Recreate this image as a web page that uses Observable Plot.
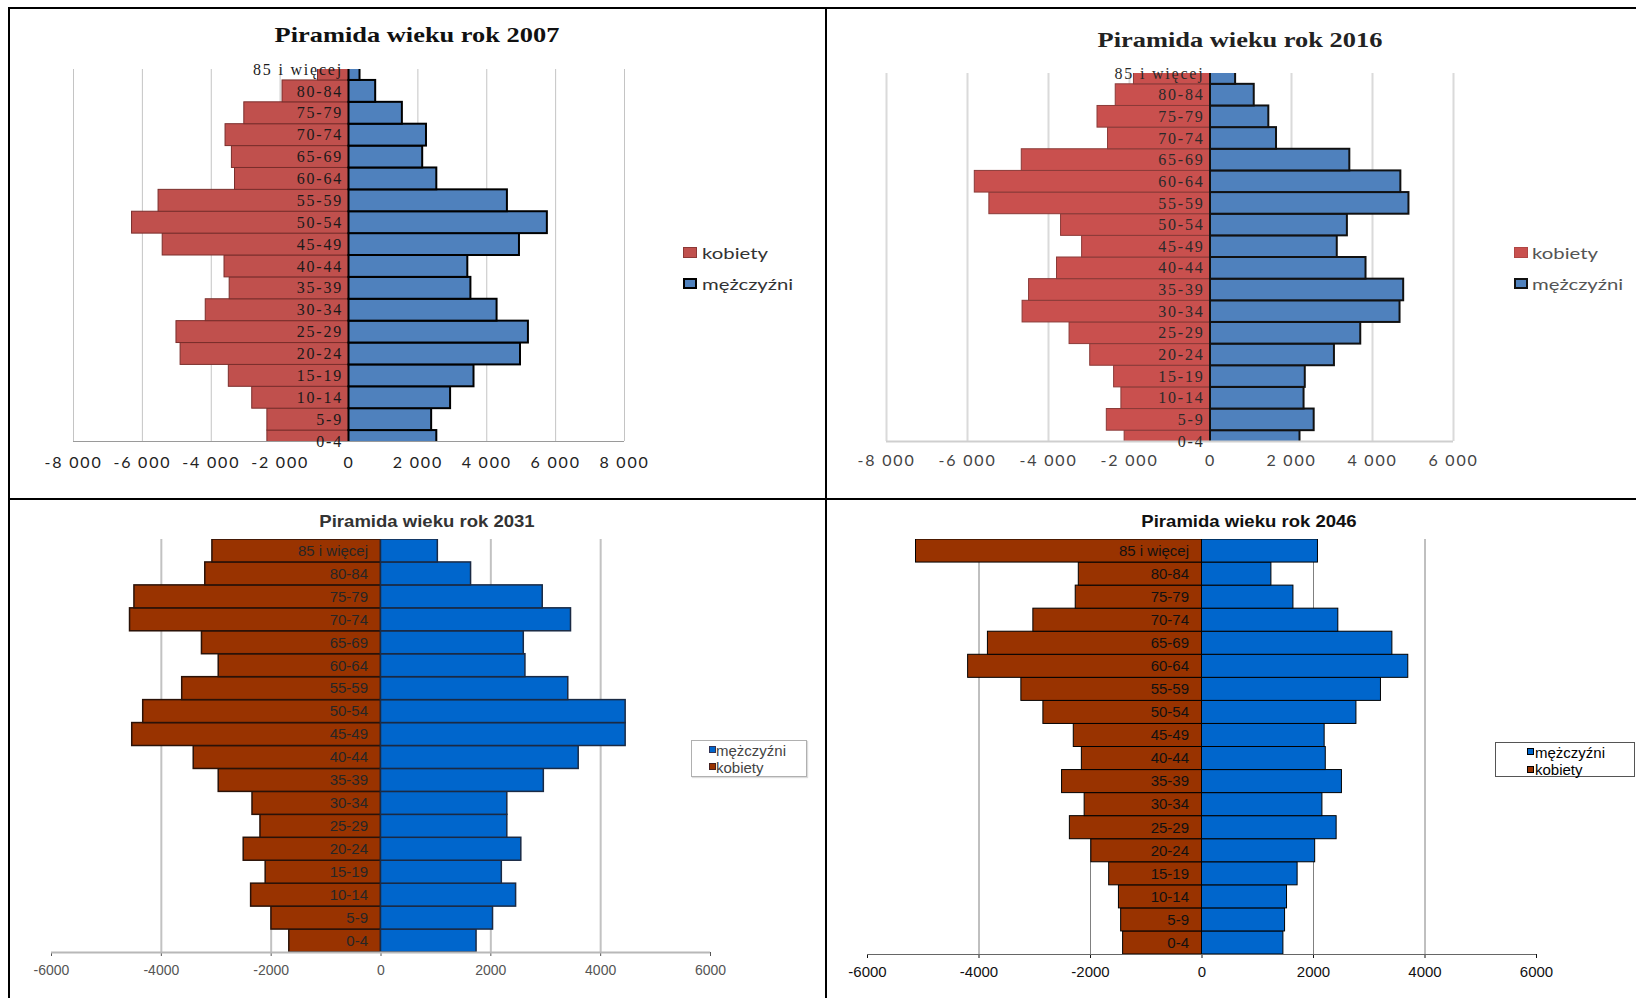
<!DOCTYPE html>
<html>
<head>
<meta charset="utf-8">
<script src="https://cdn.jsdelivr.net/npm/d3@7"></script>
<script src="https://cdn.jsdelivr.net/npm/@observablehq/plot@0.6"></script>
<style>
  body { margin: 0; background: #fff; }
  #page { position: relative; width: 1636px; height: 998px; overflow: hidden; background: #fff; }
  .line { position: absolute; background: #000; }
  .panel { position: absolute; }
  .panel svg { display: block; }
  .title { position: absolute; white-space: nowrap; line-height: 1; }
  .ltext { position: absolute; white-space: nowrap; line-height: 1; transform-origin: 0 50%; }
  .sq { position: absolute; box-sizing: border-box; }
  .lbox { position: absolute; box-sizing: border-box; background: #fff; }
</style>
</head>
<body>
<div id="page">
  <div id="p1" class="panel" style="left:10px;top:9px"></div>
  <div id="p2" class="panel" style="left:827px;top:9px"></div>
  <div id="p3" class="panel" style="left:10px;top:500px"></div>
  <div id="p4" class="panel" style="left:827px;top:500px"></div>

  <!-- titles -->
  <div class="title" style="left:417px;top:34.5px;font:bold 22px 'Liberation Serif';color:#111;transform:translate(-50%,-50%) scaleX(1.2)">Piramida wieku rok 2007</div>
  <div class="title" style="left:1240px;top:40px;font:bold 22px 'Liberation Serif';color:#222;transform:translate(-50%,-50%) scaleX(1.2)">Piramida wieku rok 2016</div>
  <div class="title" style="left:427px;top:522px;font:bold 17px 'Liberation Sans';color:#333;transform:translate(-50%,-50%) scaleX(1.09)">Piramida wieku rok 2031</div>
  <div class="title" style="left:1249px;top:522px;font:bold 17px 'Liberation Sans';color:#111;transform:translate(-50%,-50%) scaleX(1.09)">Piramida wieku rok 2046</div>

  <!-- legend 2007 -->
  <div class="sq" style="left:683px;top:246.5px;width:14px;height:11px;background:#c0504d;border:1px solid #8c3836"></div>
  <div class="ltext" style="left:702px;top:252px;font:16px Lato;color:#333;transform:translateY(-50%) scaleX(1.27)">kobiety</div>
  <div class="sq" style="left:683px;top:277.5px;width:14px;height:11px;background:#4f81bd;border:2px solid #000"></div>
  <div class="ltext" style="left:702px;top:283px;font:16px Lato;color:#333;transform:translateY(-50%) scaleX(1.27)">mężczyźni</div>

  <!-- legend 2016 -->
  <div class="sq" style="left:1514px;top:246.5px;width:14px;height:11px;background:#c9504e;border:1px solid #b04644"></div>
  <div class="ltext" style="left:1532px;top:252px;font:16px Lato;color:#555;transform:translateY(-50%) scaleX(1.27)">kobiety</div>
  <div class="sq" style="left:1514px;top:277.5px;width:14px;height:11px;background:#4f81bd;border:2px solid #111"></div>
  <div class="ltext" style="left:1532px;top:283px;font:16px Lato;color:#555;transform:translateY(-50%) scaleX(1.27)">mężczyźni</div>

  <!-- legend 2031 -->
  <div class="lbox" style="left:691px;top:740px;width:116px;height:37px;border:1px solid #b0b0b0;box-shadow:1px 1px 1px #ddd"></div>
  <div class="sq" style="left:709px;top:746px;width:7px;height:7px;background:#0066cc;border:1px solid #335"></div>
  <div class="ltext" style="left:716px;top:750px;font:15px 'Liberation Sans';color:#444;transform:translateY(-50%)">mężczyźni</div>
  <div class="sq" style="left:709px;top:763px;width:7px;height:7px;background:#993300;border:1px solid #422"></div>
  <div class="ltext" style="left:716px;top:767px;font:15px 'Liberation Sans';color:#444;transform:translateY(-50%)">kobiety</div>

  <!-- legend 2046 -->
  <div class="lbox" style="left:1495px;top:742px;width:140px;height:35px;border:1px solid #555"></div>
  <div class="sq" style="left:1527px;top:748px;width:7px;height:7px;background:#0066cc;border:1px solid #000"></div>
  <div class="ltext" style="left:1535px;top:752px;font:15px 'Liberation Sans';color:#000;transform:translateY(-50%)">mężczyźni</div>
  <div class="sq" style="left:1527px;top:766px;width:7px;height:7px;background:#993300;border:1px solid #000"></div>
  <div class="ltext" style="left:1535px;top:769px;font:15px 'Liberation Sans';color:#000;transform:translateY(-50%)">kobiety</div>

  <!-- frame lines -->
  <div class="line" style="left:8px;top:7px;width:1628px;height:2px"></div>
  <div class="line" style="left:8px;top:7px;width:2px;height:991px"></div>
  <div class="line" style="left:825px;top:7px;width:2px;height:991px"></div>
  <div class="line" style="left:8px;top:498px;width:1628px;height:2px"></div>
</div>

<script>
// ---------- DATA (bottom to top: youngest first) ----------
const ageGroups = ["0-4","5-9","10-14","15-19","20-24","25-29","30-34","35-39","40-44","45-49","50-54","55-59","60-64","65-69","70-74","75-79","80-84","85 i więcej"];

const women2007 = [2370, 2370, 2810, 3490, 4890, 5010, 4160, 3465, 3615, 5410, 6300, 5530, 3310, 3400, 3585, 3040, 1930, 900];
const men2007   = [2550, 2400, 2950, 3630, 4980, 5210, 4300, 3540, 3450, 4950, 5760, 4600, 2550, 2140, 2250, 1550, 775, 320];

const women2016 = [2120, 2560, 2200, 2380, 2970, 3480, 4640, 4480, 3790, 3170, 3690, 5460, 5820, 4660, 2530, 2790, 2340, 1890];
const men2016   = [2210, 2560, 2310, 2340, 3060, 3710, 4680, 4770, 3840, 3130, 3380, 4900, 4700, 3440, 1630, 1440, 1080, 620];

const women2031 = [1670, 1995, 2365, 2100, 2500, 2195, 2340, 2955, 3410, 4530, 4330, 3620, 2955, 3260, 4570, 4490, 3200, 3070];
const men2031   = [1740, 2040, 2460, 2200, 2555, 2300, 2300, 2965, 3600, 4455, 4455, 3410, 2630, 2600, 3460, 2945, 1640, 1035];

const women2046 = [1415, 1450, 1490, 1665, 1985, 2370, 2105, 2510, 2155, 2300, 2845, 3240, 4195, 3840, 3025, 2265, 2210, 5130];
const men2046   = [1460, 1490, 1525, 1715, 2030, 2415, 2160, 2510, 2220, 2200, 2770, 3210, 3700, 3415, 2445, 1640, 1245, 2080];

const ticks2007 = [-8000, -6000, -4000, -2000, 0, 2000, 4000, 6000, 8000];
const tickLabels2007 = ["-8 000", "-6 000", "-4 000", "-2 000", "0", "2 000", "4 000", "6 000", "8 000"];
const ticks2016 = [-8000, -6000, -4000, -2000, 0, 2000, 4000, 6000];
const tickLabels2016 = ["-8 000", "-6 000", "-4 000", "-2 000", "0", "2 000", "4 000", "6 000"];
const ticks2031 = [-6000, -4000, -2000, 0, 2000, 4000, 6000];
const tickLabels2031 = ["-6000", "-4000", "-2000", "0", "2000", "4000", "6000"];
const ticks2046 = [-6000, -4000, -2000, 0, 2000, 4000, 6000];
const tickLabels2046 = ["-6000", "-4000", "-2000", "0", "2000", "4000", "6000"];
const grid2031 = [-4000, -2000, 2000, 4000];
const grid2046 = [-4000, -2000, 2000, 4000];

// ---------- CHART ----------
function pyramid(o) {
  const rows = ageGroups.map((g, i) => ({g, i, w: o.women[i], m: o.men[i]}));
  const [ylo, yhi] = o.yDomain;
  return Plot.plot({
    width: o.width, height: o.height,
    marginLeft: o.ml, marginRight: o.mr, marginTop: o.mt, marginBottom: o.mb,
    x: {domain: [o.ticks[0], o.ticks[o.ticks.length - 1]], ticks: o.ticks,
        tickFormat: d => o.tickLabels[o.ticks.indexOf(d)],
        tickSize: o.tickSize, tickPadding: o.tickPadding, label: null},
    y: {domain: o.yDomain, axis: null},
    style: {background: "transparent", fontFamily: o.tickFont, fontSize: o.tickFontSize + "px",
            color: o.tickColor, letterSpacing: o.letterSpacing, overflow: "visible"},
    marks: [
      Plot.ruleX(o.grid, {y1: ylo, y2: yhi, stroke: o.gridColor, strokeWidth: o.gridWidth}),
      Plot.rect(rows, {x1: d => -d.w, x2: 0, y1: d => d.i - 0.5, y2: d => d.i + 0.5,
        fill: o.womenColor, stroke: o.womenStroke, strokeWidth: o.womenStrokeWidth, clip: true}),
      Plot.rect(rows, {x1: 0, x2: "m", y1: d => d.i - 0.5, y2: d => d.i + 0.5,
        fill: o.menColor, stroke: o.menStroke, strokeWidth: o.menStrokeWidth, clip: true}),
      Plot.ruleY([ylo], {x1: o.ticks[0], x2: o.ticks[o.ticks.length - 1], stroke: o.axisColor, strokeWidth: o.axisWidth}),
      Plot.text(rows, {x: 0, y: "i", text: "g", textAnchor: "end", dx: -o.labelGap,
        fontFamily: o.labelFont, fontSize: o.labelSize, fill: o.labelColor})
    ]
  });
}

document.getElementById("p1").append(pyramid({
  women: women2007, men: men2007, ticks: ticks2007, tickLabels: tickLabels2007, grid: ticks2007,
  width: 815, height: 489, ml: 63, mr: 201, mt: 60, mb: 57, yDomain: [0, 17],
  tickSize: 0, tickPadding: 15, tickFont: "Lato", tickFontSize: 16, tickColor: "#222", letterSpacing: "1.8px",
  gridColor: "#c4c4c4", gridWidth: 1, axisColor: "#9a9a9a", axisWidth: 1,
  womenColor: "#c0504d", womenStroke: "#7a2e2c", womenStrokeWidth: 1,
  menColor: "#4f81bd", menStroke: "#000", menStrokeWidth: 2,
  labelFont: "Liberation Serif", labelSize: 16, labelColor: "#1a1a1a", labelGap: 6
}));

document.getElementById("p2").append(pyramid({
  women: women2016, men: men2016, ticks: ticks2016, tickLabels: tickLabels2016, grid: ticks2016,
  width: 809, height: 489, ml: 59, mr: 183, mt: 64, mb: 57, yDomain: [0, 17],
  tickSize: 0, tickPadding: 13, tickFont: "Lato", tickFontSize: 16, tickColor: "#444", letterSpacing: "1.8px",
  gridColor: "#dadada", gridWidth: 2, axisColor: "#cfcfcf", axisWidth: 2,
  womenColor: "#c9504e", womenStroke: "#8a3a38", womenStrokeWidth: 1,
  menColor: "#4f81bd", menStroke: "#111", menStrokeWidth: 2,
  labelFont: "Liberation Serif", labelSize: 16, labelColor: "#2a2a2a", labelGap: 6
}));

document.getElementById("p3").append(pyramid({
  women: women2031, men: men2031, ticks: ticks2031, tickLabels: tickLabels2031, grid: grid2031,
  width: 815, height: 498, ml: 41, mr: 115, mt: 39, mb: 46, yDomain: [-0.5, 17.5],
  tickSize: 4, tickPadding: 9, tickFont: "Liberation Sans", tickFontSize: 14, tickColor: "#555", letterSpacing: "0px",
  gridColor: "#c2c2c2", gridWidth: 2, axisColor: "#b8b8b8", axisWidth: 2,
  womenColor: "#993300", womenStroke: "#2a1208", womenStrokeWidth: 1.5,
  menColor: "#0066cc", menStroke: "#1a2a44", menStrokeWidth: 1.5,
  labelFont: "Liberation Sans", labelSize: 15, labelColor: "#262626", labelGap: 13
}));

document.getElementById("p4").append(pyramid({
  women: women2046, men: men2046, ticks: ticks2046, tickLabels: tickLabels2046, grid: grid2046,
  width: 809, height: 498, ml: 40, mr: 100, mt: 39, mb: 44, yDomain: [-0.5, 17.5],
  tickSize: 4, tickPadding: 8, tickFont: "Liberation Sans", tickFontSize: 15, tickColor: "#111", letterSpacing: "0px",
  gridColor: "#808080", gridWidth: 1, axisColor: "#666", axisWidth: 1,
  womenColor: "#993300", womenStroke: "#000", womenStrokeWidth: 1,
  menColor: "#0066cc", menStroke: "#000", menStrokeWidth: 1,
  labelFont: "Liberation Sans", labelSize: 15, labelColor: "#111", labelGap: 13
}));
</script>
</body>
</html>
